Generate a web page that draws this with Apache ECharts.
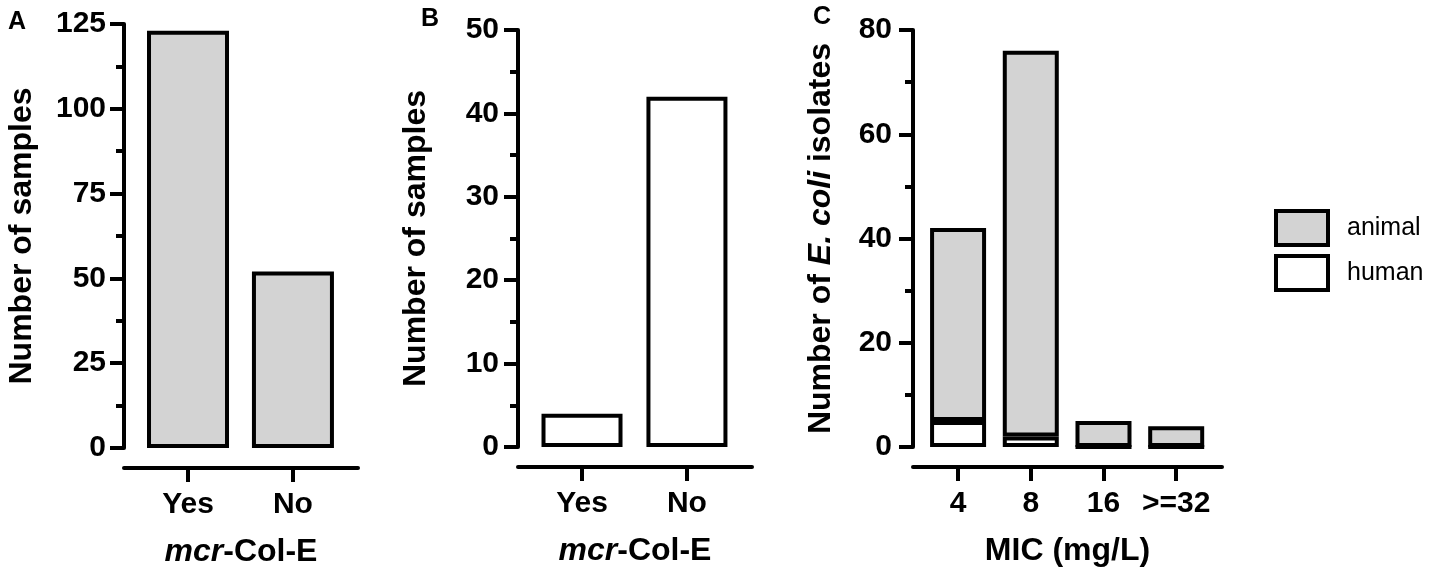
<!DOCTYPE html>
<html>
<head>
<meta charset="utf-8">
<script src="https://cdn.jsdelivr.net/npm/echarts@6/dist/echarts.min.js"></script>
<style>
  html, body { margin: 0; padding: 0; background: #fff; }
  #chart { width: 1430px; height: 574px; }
</style>
</head>
<body>
<div id="chart"></div>
<script>
// 数据
const mcrCategories = ['Yes', 'No'];
const samplesA = [123, 52];
const samplesB = [4, 42];
const micCategories = ['4', '8', '16', '>=32'];
const micAnimal = [37, 74, 5, 4];
const micHuman = [5, 2, 0, 0];
const ticksA = { max: 125, step: 25 };
const ticksB = { max: 50, step: 10 };
const ticksC = { max: 80, step: 20 };

const FONT = 'Liberation Sans, Arial, sans-serif';
const BLACK = '#000';
const GRAY = '#d3d3d3';

function yAxis(gridIndex, t, name, gap, margin) {
    return {
        type: 'value',
        gridIndex: gridIndex,
        min: 0,
        max: t.max,
        interval: t.step,
        name: name,
        nameLocation: 'middle',
        nameGap: gap,
        nameTextStyle: {
            fontFamily: FONT, fontSize: 32, fontWeight: 'bold', color: BLACK,
            rich: { i: { fontFamily: FONT, fontSize: 32, fontWeight: 'bold', fontStyle: 'italic', color: BLACK } }
        },
        axisLine: { show: true, onZero: false, lineStyle: { color: BLACK, width: 4 } },
        axisTick: { show: true, length: 14, lineStyle: { color: BLACK, width: 4 } },
        minorTick: { show: true, splitNumber: 2, length: 8, lineStyle: { color: BLACK, width: 4 } },
        splitLine: { show: false },
        axisLabel: { fontFamily: FONT, fontSize: 30, fontWeight: 'bold', color: BLACK, margin: margin }
    };
}

function xAxis(gridIndex, cats, lo, hi, name) {
    const idx = cats.map((c, i) => i);
    return {
        type: 'value',
        gridIndex: gridIndex,
        min: lo,
        max: hi,
        offset: 20,
        name: name,
        nameLocation: 'middle',
        nameGap: 68,
        nameTextStyle: {
            fontFamily: FONT, fontSize: 32, fontWeight: 'bold', color: BLACK,
            rich: { i: { fontFamily: FONT, fontSize: 32, fontWeight: 'bold', fontStyle: 'italic', color: BLACK } }
        },
        axisLine: { show: true, onZero: false, lineStyle: { color: BLACK, width: 4 } },
        axisTick: { show: true, customValues: idx, length: 14, lineStyle: { color: BLACK, width: 4 } },
        splitLine: { show: false },
        axisLabel: {
            customValues: idx,
            formatter: v => cats[Math.round(v)],
            fontFamily: FONT, fontSize: 30, fontWeight: 'bold', color: BLACK, margin: 22
        }
    };
}

const chart = echarts.init(document.getElementById('chart'));

const option = {
    animation: false,
    backgroundColor: '#fff',
    title: [
        { text: 'A', left: 8, top: 10, padding: 0, textStyle: { fontFamily: FONT, fontSize: 25, fontWeight: 'bold', color: BLACK } },
        { text: 'B', left: 421, top: 7, padding: 0, textStyle: { fontFamily: FONT, fontSize: 25, fontWeight: 'bold', color: BLACK } },
        { text: 'C', left: 813, top: 5, padding: 0, textStyle: { fontFamily: FONT, fontSize: 25, fontWeight: 'bold', color: BLACK } }
    ],
    legend: {
        orient: 'vertical',
        left: 1274,
        top: 209,
        padding: 0,
        icon: 'rect',
        itemWidth: 52,
        itemHeight: 34,
        itemGap: 7,
        data: ['animal', 'human'],
        itemStyle: { borderColor: BLACK, borderWidth: 4 },
        textStyle: { fontFamily: FONT, fontSize: 25, color: BLACK, padding: [0, 0, 0, 14] }
    },
    grid: [
        { left: 124, top: 24, width: 234, height: 424 },
        { left: 518, top: 30, width: 234, height: 417 },
        { left: 913, top: 30, width: 309, height: 417 }
    ],
    xAxis: [
        xAxis(0, mcrCategories, -0.61, 1.62, '{i|mcr}-Col-E'),
        xAxis(1, mcrCategories, -0.61, 1.62, '{i|mcr}-Col-E'),
        xAxis(2, micCategories, -0.62, 3.63, 'MIC (mg/L)')
    ],
    yAxis: [
        yAxis(0, ticksA, 'Number of samples', 86, 18),
        yAxis(1, ticksB, 'Number of samples', 86, 19),
        yAxis(2, ticksC, 'Number of {i|E. coli} isolates', 76, 21)
    ],
    series: [
        {
            type: 'bar', xAxisIndex: 0, yAxisIndex: 0, barWidth: 82,
            data: samplesA.map((v, i) => [i, v]),
            itemStyle: { color: GRAY, borderColor: BLACK, borderWidth: 4 }
        },
        {
            type: 'bar', xAxisIndex: 1, yAxisIndex: 1, barWidth: 81,
            data: samplesB.map((v, i) => [i, v]),
            itemStyle: { color: '#fff', borderColor: BLACK, borderWidth: 4 }
        },
        {
            name: 'human', type: 'bar', xAxisIndex: 2, yAxisIndex: 2, barWidth: 56, stack: 'mic',
            encode: { x: 1, y: 0 },
            data: micHuman.map((v, i) => [v, i]),
            itemStyle: { color: '#fff', borderColor: BLACK, borderWidth: 4 }
        },
        {
            name: 'animal', type: 'bar', xAxisIndex: 2, yAxisIndex: 2, barWidth: 56, stack: 'mic',
            encode: { x: 1, y: 0 },
            data: micAnimal.map((v, i) => [v, i]),
            itemStyle: { color: GRAY, borderColor: BLACK, borderWidth: 4 }
        }
    ]
};

chart.setOption(option);

window.addEventListener('resize', () => {
    chart.resize();
});
</script>
</body>
</html>
